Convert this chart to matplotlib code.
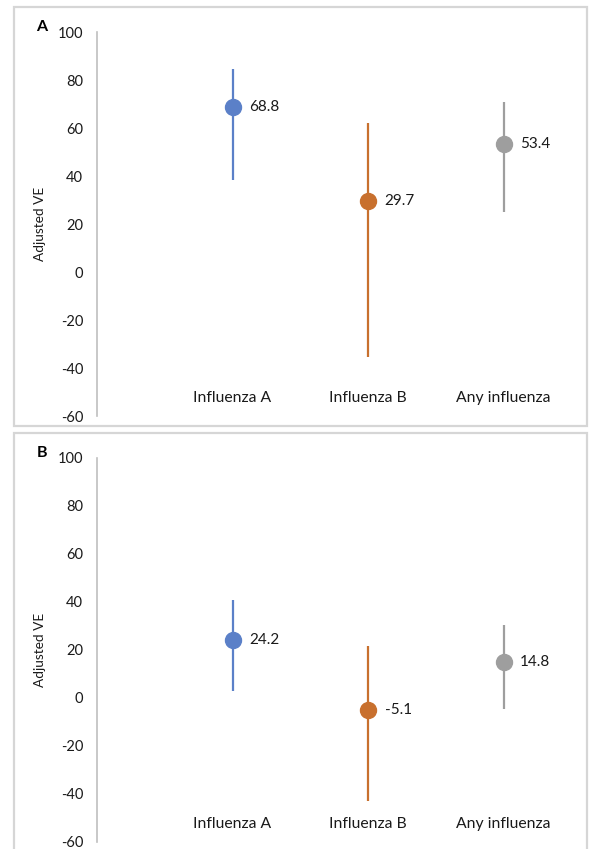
#!/usr/bin/env python
"""Adjusted VE by influenza type, two stacked panels (A, B) with 95% CI whiskers."""

import matplotlib.pyplot as plt
from matplotlib.patches import Rectangle

plt.rcParams["font.family"] = ["Lato", "DejaVu Sans"]
plt.rcParams["axes.unicode_minus"] = False

categories = ["Influenza A", "Influenza B", "Any influenza"]
colors = ["#5B80C8", "#C8702E", "#9E9E9E"]

# panel A
ve_a = [68.8, 29.7, 53.4]
lo_a = [38.3, -35.6, 25.1]
hi_a = [84.6, 62.2, 70.7]

# panel B
ve_b = [24.2, -5.1, 14.8]
lo_b = [2.9, -43.0, -4.7]
hi_b = [40.7, 21.7, 30.3]

W, H = 590, 849


def panel(fig, top_px, bottom_px, letter, ve, lo, hi):
    left, right = 97, 580
    ax = fig.add_axes([left / W, 1 - bottom_px / H, (right - left) / W, (bottom_px - top_px) / H])
    for i, (v, l, h, c) in enumerate(zip(ve, lo, hi, colors)):
        ax.plot([i, i], [l, h], color=c, lw=1.6, solid_capstyle="butt", zorder=2)
        ax.plot(i, v, "o", color=c, ms=11.5, zorder=3)
        ax.annotate(f"{v:.1f}", (i, v), textcoords="offset points", xytext=(12, 0),
                    va="center", ha="left", fontsize=11, color="#1a1a1a")
        ax.text(i, -52.5, categories[i], ha="center", va="center", fontsize=11.3, color="#1a1a1a")
    ax.set_ylim(-60, 100)
    ax.set_xlim(-1, -1 + (right - left) / 135.5)
    ax.set_yticks(range(-60, 101, 20))
    ax.set_xticks([])
    ax.tick_params(axis="y", length=0, pad=10, labelsize=10.5, labelcolor="#1a1a1a")
    for s in ["top", "right", "bottom"]:
        ax.spines[s].set_visible(False)
    ax.spines["left"].set_color("#BFBFBF")
    ax.spines["left"].set_linewidth(1.2)
    ax.set_ylabel("Adjusted VE", fontsize=9.8, labelpad=8, color="#1a1a1a")
    ax.patch.set_alpha(0)
    fig.text(42 / W, 1 - (top_px - 5) / H, letter, fontsize=11.5, fontweight="bold",
             ha="center", va="center")
    return ax


fig = plt.figure(figsize=(W / 100, H / 100), dpi=100)

# light grey frames round each panel
for y0, y1 in [(7, 426), (433, 856)]:
    fig.patches.append(Rectangle((14 / W, 1 - y1 / H), (587 - 14) / W, (y1 - y0) / H,
                                 transform=fig.transFigure, fill=False,
                                 edgecolor="#D6D6D6", lw=1.6, zorder=0))

panel(fig, 32, 416, "A", ve_a, lo_a, hi_a)
panel(fig, 457.7, 841.7, "B", ve_b, lo_b, hi_b)

fig.savefig("out.png", dpi=100)
